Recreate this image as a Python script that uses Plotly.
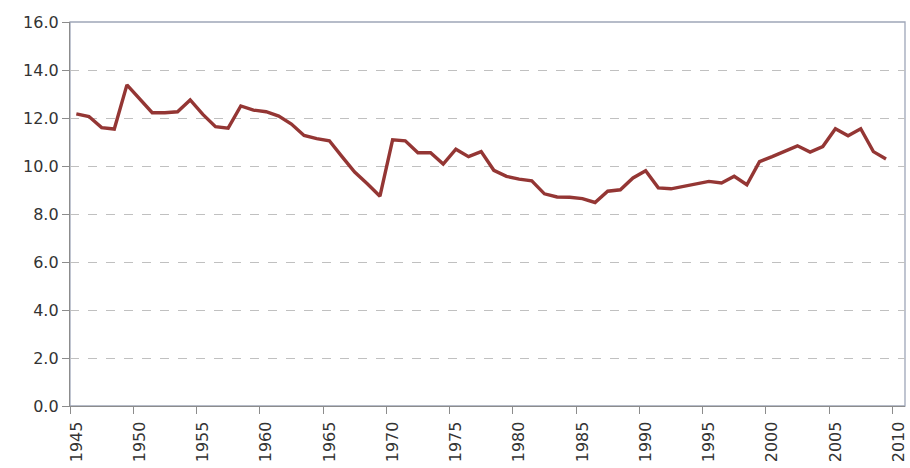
import plotly.graph_objects as go

years = list(range(1945, 2010))
values = [12.17, 12.06, 11.60, 11.54, 13.38, 12.80, 12.22, 12.22, 12.26, 12.75,
          12.15, 11.64, 11.58, 12.50, 12.33, 12.26, 12.08, 11.75, 11.27, 11.14,
          11.05, 10.39, 9.75, 9.26, 8.74, 11.09, 11.05, 10.55, 10.55, 10.08,
          10.70, 10.39, 10.60, 9.82, 9.57, 9.45, 9.38, 8.84, 8.71, 8.70,
          8.64, 8.48, 8.95, 9.01, 9.50, 9.80, 9.09, 9.05, 9.15, 9.24,
          9.36, 9.29, 9.57, 9.22, 10.18, 10.39, 10.60, 10.84, 10.58, 10.81,
          11.55, 11.26, 11.55, 10.60, 10.29]
tick_years = list(range(1945, 2011, 5))
tick_labels = [str(y) for y in tick_years]
y_ticks = [0, 2, 4, 6, 8, 10, 12, 14, 16]

fig = go.Figure()
fig.add_trace(go.Scatter(x=years, y=values, mode="lines",
                         line=dict(color="#943634", width=3.4),
                         hoverinfo="x+y"))

fig.add_shape(type="rect", xref="paper", yref="paper", x0=0, x1=1, y0=0, y1=1,
              line=dict(color="#9ea6b8", width=1.3), layer="below")

fig.update_layout(
    width=910, height=468,
    margin=dict(l=70, r=5, t=22, b=62, autoexpand=False),
    paper_bgcolor="white", plot_bgcolor="white",
    showlegend=False,
    font=dict(family="DejaVu Sans", size=16, color="#333333"),
    xaxis=dict(range=[1944.5, 2010.5], tickvals=tick_years, ticktext=tick_labels,
               tickangle=-90, ticks="outside", ticklen=8, tickcolor="rgba(0,0,0,0)",
               showgrid=False, zeroline=False, automargin=False,
               showline=True, linecolor="#8c8c8c", linewidth=1.3,
               minor=dict(tickvals=[y - 0.5 for y in tick_years], ticks="outside",
                          ticklen=7, tickcolor="#8c8c8c", tickwidth=1.3, showgrid=False)),
    yaxis=dict(range=[0, 16], tickvals=y_ticks, tickformat=".1f",
               ticks="outside", ticklen=7, tickcolor="#8c8c8c", tickwidth=1.3,
               showgrid=True, gridcolor="#c0c0c0", griddash="dash", gridwidth=1,
               zeroline=False, showline=True, linecolor="#8c8c8c", linewidth=1.3,
               automargin=False),
)

fig.write_html("out.html", config={"displayModeBar": False},
               post_script="document.body.style.margin='0px';")
